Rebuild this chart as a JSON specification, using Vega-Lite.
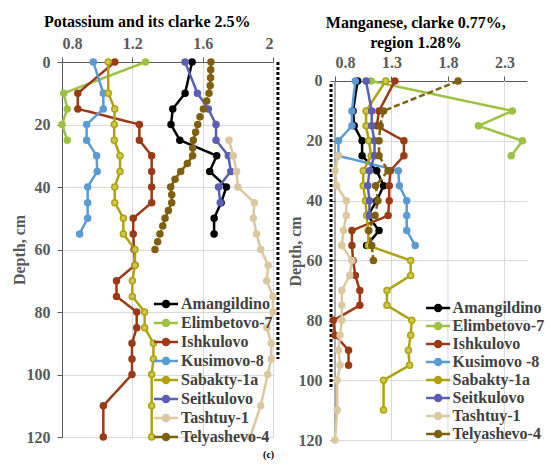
{
  "$schema": "https://vega.github.io/schema/vega-lite/v6.json",
  "padding": {"left": 11, "top": 14, "right": 0, "bottom": 0},
  "spacing": 7,
  "config": {
    "view": {"stroke": null},
    "font": "Liberation Serif",
    "axis": {
      "labelFont": "Liberation Serif", "labelFontWeight": "bold", "labelFontSize": 16, "labelColor": "#595959",
      "titleFont": "Liberation Serif", "titleFontWeight": "bold", "titleFontSize": 16, "titleColor": "#595959",
      "domainColor": "#595959", "tickColor": "#595959", "gridColor": "#d9d9d9", "tickSize": 5, "labelPadding": 6
    },
    "title": {"font": "Liberation Serif", "fontSize": 16, "fontWeight": "bold", "color": "#000000"},
    "legend": {
      "orient": "none", "title": null, "padding": 0,
      "symbolType": "M-1.39,0L1.39,0M-0.35,0A0.35,0.35,0,1,1,0.35,0A0.35,0.35,0,1,1,-0.35,0M-0.15,0A0.15,0.15,0,1,1,0.15,0A0.15,0.15,0,1,1,-0.15,0",
      "symbolSize": 300, "symbolStrokeWidth": 2.5,
      "labelFont": "Liberation Serif", "labelFontWeight": "bold", "labelFontSize": 16, "labelColor": "#404040", "labelOffset": 5
    }
  },
  "datasets": {
    "k": [
      {"s": "Amangildino", "d": 0, "v": 1.54}, {"s": "Amangildino", "d": 10, "v": 1.50}, {"s": "Amangildino", "d": 15, "v": 1.43},
      {"s": "Amangildino", "d": 20, "v": 1.42}, {"s": "Amangildino", "d": 25, "v": 1.47}, {"s": "Amangildino", "d": 30, "v": 1.68},
      {"s": "Amangildino", "d": 35, "v": 1.64}, {"s": "Amangildino", "d": 40, "v": 1.735}, {"s": "Amangildino", "d": 45, "v": 1.705},
      {"s": "Amangildino", "d": 50, "v": 1.665}, {"s": "Amangildino", "d": 55, "v": 1.665},
      {"s": "Elimbetovo-7", "d": 0, "v": 1.275}, {"s": "Elimbetovo-7", "d": 10, "v": 0.81}, {"s": "Elimbetovo-7", "d": 15, "v": 0.83},
      {"s": "Elimbetovo-7", "d": 20, "v": 0.80}, {"s": "Elimbetovo-7", "d": 25, "v": 0.83},
      {"s": "Ishkulovo", "d": 0, "v": 1.10}, {"s": "Ishkulovo", "d": 10, "v": 0.89}, {"s": "Ishkulovo", "d": 15, "v": 0.89},
      {"s": "Ishkulovo", "d": 20, "v": 1.24}, {"s": "Ishkulovo", "d": 25, "v": 1.24}, {"s": "Ishkulovo", "d": 30, "v": 1.31},
      {"s": "Ishkulovo", "d": 35, "v": 1.31}, {"s": "Ishkulovo", "d": 40, "v": 1.31}, {"s": "Ishkulovo", "d": 45, "v": 1.31},
      {"s": "Ishkulovo", "d": 50, "v": 1.205}, {"s": "Ishkulovo", "d": 55, "v": 1.205}, {"s": "Ishkulovo", "d": 60, "v": 1.21},
      {"s": "Ishkulovo", "d": 65, "v": 1.215}, {"s": "Ishkulovo", "d": 70, "v": 1.11}, {"s": "Ishkulovo", "d": 75, "v": 1.11},
      {"s": "Ishkulovo", "d": 80, "v": 1.225}, {"s": "Ishkulovo", "d": 85, "v": 1.225}, {"s": "Ishkulovo", "d": 90, "v": 1.198},
      {"s": "Ishkulovo", "d": 95, "v": 1.198}, {"s": "Ishkulovo", "d": 100, "v": 1.198}, {"s": "Ishkulovo", "d": 110, "v": 1.035},
      {"s": "Ishkulovo", "d": 120, "v": 1.035},
      {"s": "Kusimovo-8", "d": 0, "v": 0.978}, {"s": "Kusimovo-8", "d": 10, "v": 1.035}, {"s": "Kusimovo-8", "d": 15, "v": 1.035},
      {"s": "Kusimovo-8", "d": 20, "v": 0.94}, {"s": "Kusimovo-8", "d": 25, "v": 0.94}, {"s": "Kusimovo-8", "d": 30, "v": 0.997},
      {"s": "Kusimovo-8", "d": 35, "v": 1.0}, {"s": "Kusimovo-8", "d": 40, "v": 0.946}, {"s": "Kusimovo-8", "d": 45, "v": 0.946},
      {"s": "Kusimovo-8", "d": 50, "v": 0.946}, {"s": "Kusimovo-8", "d": 55, "v": 0.90},
      {"s": "Sabakty-1a", "d": 0, "v": 1.063}, {"s": "Sabakty-1a", "d": 10, "v": 1.063}, {"s": "Sabakty-1a", "d": 15, "v": 1.10},
      {"s": "Sabakty-1a", "d": 20, "v": 1.097}, {"s": "Sabakty-1a", "d": 25, "v": 1.097}, {"s": "Sabakty-1a", "d": 30, "v": 1.13},
      {"s": "Sabakty-1a", "d": 35, "v": 1.13}, {"s": "Sabakty-1a", "d": 40, "v": 1.10}, {"s": "Sabakty-1a", "d": 45, "v": 1.10},
      {"s": "Sabakty-1a", "d": 50, "v": 1.149}, {"s": "Sabakty-1a", "d": 55, "v": 1.149}, {"s": "Sabakty-1a", "d": 60, "v": 1.215},
      {"s": "Sabakty-1a", "d": 65, "v": 1.215}, {"s": "Sabakty-1a", "d": 70, "v": 1.20}, {"s": "Sabakty-1a", "d": 75, "v": 1.20},
      {"s": "Sabakty-1a", "d": 80, "v": 1.27}, {"s": "Sabakty-1a", "d": 85, "v": 1.27}, {"s": "Sabakty-1a", "d": 90, "v": 1.32},
      {"s": "Sabakty-1a", "d": 95, "v": 1.32}, {"s": "Sabakty-1a", "d": 100, "v": 1.31}, {"s": "Sabakty-1a", "d": 110, "v": 1.31},
      {"s": "Sabakty-1a", "d": 120, "v": 1.31},
      {"s": "Seitkulovo", "d": 0, "v": 1.50}, {"s": "Seitkulovo", "d": 10, "v": 1.57}, {"s": "Seitkulovo", "d": 15, "v": 1.632},
      {"s": "Seitkulovo", "d": 20, "v": 1.676}, {"s": "Seitkulovo", "d": 25, "v": 1.676}, {"s": "Seitkulovo", "d": 30, "v": 1.746},
      {"s": "Seitkulovo", "d": 35, "v": 1.76}, {"s": "Seitkulovo", "d": 40, "v": 1.69}, {"s": "Seitkulovo", "d": 45, "v": 1.70},
      {"s": "Tashtuy-1", "d": 25, "v": 1.75}, {"s": "Tashtuy-1", "d": 30, "v": 1.774}, {"s": "Tashtuy-1", "d": 35, "v": 1.793},
      {"s": "Tashtuy-1", "d": 40, "v": 1.80}, {"s": "Tashtuy-1", "d": 45, "v": 1.894}, {"s": "Tashtuy-1", "d": 50, "v": 1.888},
      {"s": "Tashtuy-1", "d": 55, "v": 1.907}, {"s": "Tashtuy-1", "d": 60, "v": 1.93}, {"s": "Tashtuy-1", "d": 65, "v": 1.973},
      {"s": "Tashtuy-1", "d": 70, "v": 1.964}, {"s": "Tashtuy-1", "d": 75, "v": 2.0}, {"s": "Tashtuy-1", "d": 80, "v": 2.0},
      {"s": "Tashtuy-1", "d": 85, "v": 1.965}, {"s": "Tashtuy-1", "d": 90, "v": 1.99}, {"s": "Tashtuy-1", "d": 95, "v": 1.99},
      {"s": "Tashtuy-1", "d": 100, "v": 1.97}, {"s": "Tashtuy-1", "d": 110, "v": 1.93}, {"s": "Tashtuy-1", "d": 120, "v": 1.87},
      {"s": "Telyashevo-4", "d": 0, "v": 1.647}, {"s": "Telyashevo-4", "d": 2.5, "v": 1.646}, {"s": "Telyashevo-4", "d": 5, "v": 1.645},
      {"s": "Telyashevo-4", "d": 7.5, "v": 1.643}, {"s": "Telyashevo-4", "d": 10, "v": 1.636}, {"s": "Telyashevo-4", "d": 12.5, "v": 1.623},
      {"s": "Telyashevo-4", "d": 15, "v": 1.604}, {"s": "Telyashevo-4", "d": 17.5, "v": 1.585}, {"s": "Telyashevo-4", "d": 20, "v": 1.572},
      {"s": "Telyashevo-4", "d": 22.5, "v": 1.56}, {"s": "Telyashevo-4", "d": 25, "v": 1.547}, {"s": "Telyashevo-4", "d": 27.5, "v": 1.543},
      {"s": "Telyashevo-4", "d": 30, "v": 1.543}, {"s": "Telyashevo-4", "d": 32.5, "v": 1.513}, {"s": "Telyashevo-4", "d": 35, "v": 1.475},
      {"s": "Telyashevo-4", "d": 37.5, "v": 1.443}, {"s": "Telyashevo-4", "d": 40, "v": 1.418}, {"s": "Telyashevo-4", "d": 42.5, "v": 1.424},
      {"s": "Telyashevo-4", "d": 45, "v": 1.424}, {"s": "Telyashevo-4", "d": 47.5, "v": 1.405}, {"s": "Telyashevo-4", "d": 50, "v": 1.386},
      {"s": "Telyashevo-4", "d": 52.5, "v": 1.373}, {"s": "Telyashevo-4", "d": 55, "v": 1.357}, {"s": "Telyashevo-4", "d": 57.5, "v": 1.344},
      {"s": "Telyashevo-4", "d": 60, "v": 1.329}
    ],
    "mn": [
      {"s": "Amangildino", "d": 0, "v": 1.00}, {"s": "Amangildino", "d": 10, "v": 0.96}, {"s": "Amangildino", "d": 15, "v": 0.97},
      {"s": "Amangildino", "d": 20, "v": 1.04}, {"s": "Amangildino", "d": 25, "v": 1.04}, {"s": "Amangildino", "d": 30, "v": 1.17},
      {"s": "Amangildino", "d": 35, "v": 1.23}, {"s": "Amangildino", "d": 40, "v": 1.17}, {"s": "Amangildino", "d": 45, "v": 1.09},
      {"s": "Amangildino", "d": 50, "v": 1.19}, {"s": "Amangildino", "d": 55, "v": 1.08},
      {"s": "Elimbetovo-7", "d": 0, "v": 1.12}, {"s": "Elimbetovo-7", "d": 10, "v": 2.37}, {"s": "Elimbetovo-7", "d": 15, "v": 2.07},
      {"s": "Elimbetovo-7", "d": 20, "v": 2.46}, {"s": "Elimbetovo-7", "d": 25, "v": 2.36},
      {"s": "Ishkulovo", "d": 0, "v": 1.33}, {"s": "Ishkulovo", "d": 10, "v": 1.19}, {"s": "Ishkulovo", "d": 15, "v": 1.17},
      {"s": "Ishkulovo", "d": 20, "v": 1.41}, {"s": "Ishkulovo", "d": 25, "v": 1.41}, {"s": "Ishkulovo", "d": 30, "v": 1.29},
      {"s": "Ishkulovo", "d": 35, "v": 1.28}, {"s": "Ishkulovo", "d": 40, "v": 1.28}, {"s": "Ishkulovo", "d": 45, "v": 1.27},
      {"s": "Ishkulovo", "d": 50, "v": 0.95}, {"s": "Ishkulovo", "d": 55, "v": 0.95}, {"s": "Ishkulovo", "d": 60, "v": 0.96},
      {"s": "Ishkulovo", "d": 65, "v": 0.98}, {"s": "Ishkulovo", "d": 70, "v": 1.02}, {"s": "Ishkulovo", "d": 75, "v": 1.02},
      {"s": "Ishkulovo", "d": 80, "v": 0.785}, {"s": "Ishkulovo", "d": 85, "v": 0.80}, {"s": "Ishkulovo", "d": 90, "v": 0.92},
      {"s": "Ishkulovo", "d": 95, "v": 0.92},
      {"s": "Kusimovo-8", "d": 0, "v": 0.98}, {"s": "Kusimovo-8", "d": 10, "v": 0.95}, {"s": "Kusimovo-8", "d": 15, "v": 0.95},
      {"s": "Kusimovo-8", "d": 20, "v": 0.83}, {"s": "Kusimovo-8", "d": 25, "v": 0.83}, {"s": "Kusimovo-8", "d": 30, "v": 1.36},
      {"s": "Kusimovo-8", "d": 35, "v": 1.37}, {"s": "Kusimovo-8", "d": 40, "v": 1.435}, {"s": "Kusimovo-8", "d": 45, "v": 1.435},
      {"s": "Kusimovo-8", "d": 50, "v": 1.435}, {"s": "Kusimovo-8", "d": 55, "v": 1.51},
      {"s": "Sabakty-1a", "d": 0, "v": 1.25}, {"s": "Sabakty-1a", "d": 10, "v": 1.075}, {"s": "Sabakty-1a", "d": 15, "v": 1.075},
      {"s": "Sabakty-1a", "d": 20, "v": 1.10}, {"s": "Sabakty-1a", "d": 25, "v": 1.12}, {"s": "Sabakty-1a", "d": 30, "v": 1.05},
      {"s": "Sabakty-1a", "d": 35, "v": 1.05}, {"s": "Sabakty-1a", "d": 40, "v": 1.07}, {"s": "Sabakty-1a", "d": 45, "v": 1.08},
      {"s": "Sabakty-1a", "d": 50, "v": 1.095}, {"s": "Sabakty-1a", "d": 55, "v": 1.095}, {"s": "Sabakty-1a", "d": 60, "v": 1.47},
      {"s": "Sabakty-1a", "d": 65, "v": 1.47}, {"s": "Sabakty-1a", "d": 70, "v": 1.26}, {"s": "Sabakty-1a", "d": 75, "v": 1.26},
      {"s": "Sabakty-1a", "d": 80, "v": 1.48}, {"s": "Sabakty-1a", "d": 85, "v": 1.47}, {"s": "Sabakty-1a", "d": 90, "v": 1.45},
      {"s": "Sabakty-1a", "d": 95, "v": 1.46}, {"s": "Sabakty-1a", "d": 100, "v": 1.23}, {"s": "Sabakty-1a", "d": 110, "v": 1.23},
      {"s": "Seitkulovo", "d": 0, "v": 1.075}, {"s": "Seitkulovo", "d": 10, "v": 1.125}, {"s": "Seitkulovo", "d": 15, "v": 1.125},
      {"s": "Seitkulovo", "d": 20, "v": 1.15}, {"s": "Seitkulovo", "d": 25, "v": 1.15}, {"s": "Seitkulovo", "d": 30, "v": 1.105},
      {"s": "Seitkulovo", "d": 35, "v": 1.09}, {"s": "Seitkulovo", "d": 40, "v": 1.105}, {"s": "Seitkulovo", "d": 45, "v": 1.105},
      {"s": "Tashtuy-1", "d": 25, "v": 0.83}, {"s": "Tashtuy-1", "d": 30, "v": 0.80}, {"s": "Tashtuy-1", "d": 35, "v": 0.815},
      {"s": "Tashtuy-1", "d": 40, "v": 0.90}, {"s": "Tashtuy-1", "d": 45, "v": 0.90}, {"s": "Tashtuy-1", "d": 50, "v": 0.875},
      {"s": "Tashtuy-1", "d": 55, "v": 0.86}, {"s": "Tashtuy-1", "d": 60, "v": 0.95}, {"s": "Tashtuy-1", "d": 65, "v": 0.93},
      {"s": "Tashtuy-1", "d": 70, "v": 0.86}, {"s": "Tashtuy-1", "d": 75, "v": 0.86}, {"s": "Tashtuy-1", "d": 80, "v": 0.86},
      {"s": "Tashtuy-1", "d": 85, "v": 0.845}, {"s": "Tashtuy-1", "d": 90, "v": 0.83}, {"s": "Tashtuy-1", "d": 95, "v": 0.845},
      {"s": "Tashtuy-1", "d": 100, "v": 0.82}, {"s": "Tashtuy-1", "d": 110, "v": 0.82}, {"s": "Tashtuy-1", "d": 120, "v": 0.80},
      {"s": "Telyashevo-4", "d": 0, "v": 1.89}, {"s": "Telyashevo-4", "d": 10, "v": 1.23}, {"s": "Telyashevo-4", "d": 15, "v": 1.20},
      {"s": "Telyashevo-4", "d": 20, "v": 1.19}, {"s": "Telyashevo-4", "d": 25, "v": 1.19}, {"s": "Telyashevo-4", "d": 30, "v": 1.27},
      {"s": "Telyashevo-4", "d": 35, "v": 1.16}, {"s": "Telyashevo-4", "d": 40, "v": 1.18}, {"s": "Telyashevo-4", "d": 45, "v": 1.155},
      {"s": "Telyashevo-4", "d": 50, "v": 1.10}, {"s": "Telyashevo-4", "d": 55, "v": 1.125}, {"s": "Telyashevo-4", "d": 60, "v": 1.14}
    ]
  },
  "hconcat": [
    {
      "width": 211,
      "height": 375,
      "title": {"text": "Potassium and its clarke 2.5%", "frame": "bounds", "offset": 5, "dx": 2},
      "layer": [
        {
          "data": {"values": [{"v": 2.028, "d0": 0, "d1": 95}]},
          "mark": {"type": "rule", "color": "#000000", "strokeWidth": 3, "strokeDash": [3, 2]},
          "encoding": {
            "x": {"field": "v", "type": "quantitative"},
            "y": {"field": "d0", "type": "quantitative"},
            "y2": {"field": "d1"}
          }
        },
        {
          "data": {"name": "k"},
          "mark": {"type": "line", "strokeWidth": 2.5},
          "encoding": {
            "x": {"field": "v", "type": "quantitative", "scale": {"domain": [0.8, 2], "nice": false, "zero": false},
              "axis": {"orient": "top", "values": [0.8, 1.2, 1.6, 2], "format": "~g", "title": null, "grid": true}},
            "y": {"field": "d", "type": "quantitative", "scale": {"domain": [0, 120], "reverse": true, "nice": false},
              "axis": {"values": [0, 20, 40, 60, 80, 100, 120], "title": "Depth, cm", "grid": true, "labelPadding": 7, "titlePadding": -1}},
            "order": {"field": "d"},
            "color": {"field": "s", "type": "nominal",
              "scale": {"domain": ["Amangildino", "Elimbetovo-7", "Ishkulovo", "Kusimovo-8", "Sabakty-1a", "Seitkulovo", "Tashtuy-1", "Telyashevo-4"],
                "range": ["#000000", "#9dc143", "#9b3a14", "#5b9bd5", "#aea20f", "#5a5fb4", "#dcc8a0", "#7f5f10"]},
              "legend": {"legendX": 94, "legendY": 232, "rowPadding": 0}},
            "strokeDash": {"field": "s", "type": "nominal", "legend": null,
              "scale": {"domain": ["Amangildino", "Elimbetovo-7", "Ishkulovo", "Kusimovo-8", "Sabakty-1a", "Seitkulovo", "Tashtuy-1", "Telyashevo-4"],
                "range": [[1, 0], [1, 0], [1, 0], [1, 0], [1, 0], [1, 0], [1, 0], [6, 3]]}}
          }
        },
        {
          "data": {"name": "k"},
          "mark": {"type": "point", "filled": true, "strokeWidth": 1.5, "opacity": 1},
          "encoding": {
            "x": {"field": "v", "type": "quantitative"},
            "y": {"field": "d", "type": "quantitative"},
            "fill": {"field": "s", "type": "nominal", "legend": null,
              "scale": {"domain": ["Amangildino", "Elimbetovo-7", "Ishkulovo", "Kusimovo-8", "Sabakty-1a", "Seitkulovo", "Tashtuy-1", "Telyashevo-4"],
                "range": ["#000000", "#9dc143", "#9b3a14", "#5b9bd5", "#cfc84a", "#5a5fb4", "#dcc8a0", "#7f5f10"]}},
            "stroke": {"field": "s", "type": "nominal", "legend": null,
              "scale": {"domain": ["Amangildino", "Elimbetovo-7", "Ishkulovo", "Kusimovo-8", "Sabakty-1a", "Seitkulovo", "Tashtuy-1", "Telyashevo-4"],
                "range": ["#000000", "#9dc143", "#9b3a14", "#5b9bd5", "#aea20f", "#5a5fb4", "#dcc8a0", "#7f5f10"]}},
            "size": {"field": "s", "type": "nominal", "legend": null,
              "scale": {"domain": ["Amangildino", "Elimbetovo-7", "Ishkulovo", "Kusimovo-8", "Sabakty-1a", "Seitkulovo", "Tashtuy-1", "Telyashevo-4"],
                "range": [36, 36, 36, 36, 45, 36, 36, 10]}}
          }
        },
        {
          "data": {"values": [{"t": "(c)", "v": 1.975, "d": 125.8}]},
          "mark": {"type": "text", "font": "Liberation Serif", "fontWeight": "bold", "fontSize": 10, "color": "#000000"},
          "encoding": {
            "x": {"field": "v", "type": "quantitative"},
            "y": {"field": "d", "type": "quantitative"},
            "text": {"field": "t"}
          }
        }
      ]
    },
    {
      "width": 192,
      "height": 378,
      "title": {"text": ["Manganese, clarke 0.77%,", "region 1.28%"], "frame": "bounds", "offset": 3, "lineHeight": 20},
      "layer": [
        {
          "data": {"values": [{"g": 1.3, "d0": 0, "d1": 120}, {"g": 1.8, "d0": 0, "d1": 120}, {"g": 2.3, "d0": 0, "d1": 120}]},
          "mark": {"type": "rule", "color": "#d9d9d9", "strokeWidth": 1},
          "encoding": {
            "x": {"field": "g", "type": "quantitative"},
            "y": {"field": "d0", "type": "quantitative"},
            "y2": {"field": "d1"}
          }
        },
        {
          "data": {"values": [{"g": 0.8, "d0": 0, "d1": 120}]},
          "mark": {"type": "rule", "color": "#595959", "strokeWidth": 1},
          "encoding": {
            "x": {"field": "g", "type": "quantitative"},
            "y": {"field": "d0", "type": "quantitative"},
            "y2": {"field": "d1"}
          }
        },
        {
          "data": {"values": [{"v": 0.765, "d0": 1, "d1": 103}]},
          "mark": {"type": "rule", "color": "#000000", "strokeWidth": 3, "strokeDash": [3, 2]},
          "encoding": {
            "x": {"field": "v", "type": "quantitative"},
            "y": {"field": "d0", "type": "quantitative"},
            "y2": {"field": "d1"}
          }
        },
        {
          "data": {"name": "mn"},
          "mark": {"type": "line", "strokeWidth": 2.5},
          "encoding": {
            "x": {"field": "v", "type": "quantitative", "scale": {"domain": [0.8, 2.5], "nice": false, "zero": false},
              "axis": {"orient": "top", "values": [0.8, 1.3, 1.8, 2.3], "title": null, "grid": false, "offset": -19}},
            "y": {"field": "d", "type": "quantitative", "scale": {"domain": [-6.35, 120], "reverse": true, "nice": false},
              "axis": {"values": [0, 20, 40, 60, 80, 100, 120], "title": "Depth, cm", "grid": true, "domain": false, "labelPadding": 8, "titlePadding": -5}},
            "order": {"field": "d"},
            "color": {"field": "s", "type": "nominal",
              "legend": {"legendX": 93.6, "legendY": 236.5, "rowPadding": 0,
                "symbolSize": 250,
                "symbolType": "M-1.52,0L1.52,0M-0.38,0A0.38,0.38,0,1,1,0.38,0A0.38,0.38,0,1,1,-0.38,0M-0.16,0A0.16,0.16,0,1,1,0.16,0A0.16,0.16,0,1,1,-0.16,0",
                "labelExpr": "datum.label == 'Kusimovo-8' ? 'Kusimovo -8' : datum.label == 'Ishkulovo' ? ' Ishkulovo' : datum.label"}},
            "strokeDash": {"field": "s", "type": "nominal", "legend": null}
          }
        },
        {
          "data": {"name": "mn"},
          "mark": {"type": "point", "filled": true, "strokeWidth": 1.5, "opacity": 1},
          "encoding": {
            "x": {"field": "v", "type": "quantitative"},
            "y": {"field": "d", "type": "quantitative"},
            "fill": {"field": "s", "type": "nominal", "legend": null},
            "stroke": {"field": "s", "type": "nominal", "legend": null},
            "size": {"field": "s", "type": "nominal", "legend": null}
          }
        }
      ]
    }
  ],
  "resolve": {"legend": {"color": "independent"}}
}
